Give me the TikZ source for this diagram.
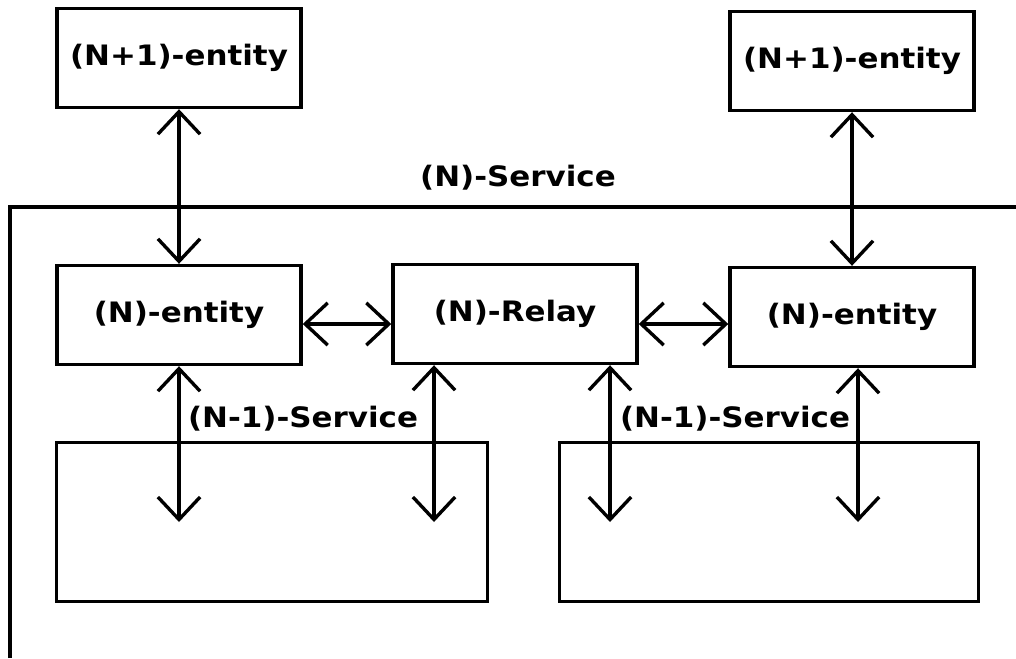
\documentclass[tikz,border=0pt]{standalone}
\usepackage{fontspec}
\setsansfont{DejaVu Sans}[FakeStretch=1.1]
\usepackage{tikz}
\usetikzlibrary{arrows.meta,positioning}

\tikzset{
  lbl/.style={font=\sffamily\bfseries\fontsize{20}{24}\selectfont, inner sep=0pt},
  entbox/.style={draw, lbl, minimum width=6.1cm, minimum height=2.475cm},
  subbox/.style={draw, minimum height=3.975cm}
}

\begin{document}
\begin{tikzpicture}[>={Straight Barb[length=16pt,width=30pt]},x=0.025cm,y=-0.025cm,line width=2.4pt]
\useasboundingbox (0,0) rectangle (1016,658);

\draw (10,658) -- (10,207) -- (1016,207);
\node[lbl] (nsrv) at (518,178) {(N)-Service};

\node[entbox] (top1) at (179,58) {(N+1)-entity};
\node[entbox] (top2) at (852,61) {(N+1)-entity};
\node[entbox] (ent1) at (179,315) {(N)-entity};
\node[entbox] (relay) at (515,314) {(N)-Relay};
\node[entbox] (ent2) at (852,317) {(N)-entity};

\node[subbox, minimum width=10.78cm] (sub1) at (272,522) {};
\node[subbox, minimum width=10.48cm] (sub2) at (769,522) {};
\node[lbl] (srv1) at (303,419) {(N-1)-Service};
\node[lbl] (srv2) at (735,419) {(N-1)-Service};

\coordinate (h) at (0,324);
\draw [<->] (top1) -- (ent1);
\draw [<->] (top2) -- (ent2);
\draw [<->] (ent1.east |- h) -- (relay.west |- h);
\draw [<->] (relay.east |- h) -- (ent2.west |- h);

\coordinate (d1) at (179,522);
\coordinate (d2) at (434,522);
\coordinate (d3) at (610,522);
\coordinate (d4) at (858,522);
\draw [<->] (ent1) -- (d1);
\draw [<->] (relay.south -| d2) -- (d2);
\draw [<->] (relay.south -| d3) -- (d3);
\draw [<->] (ent2.south -| d4) -- (d4);

\end{tikzpicture}
\end{document}
